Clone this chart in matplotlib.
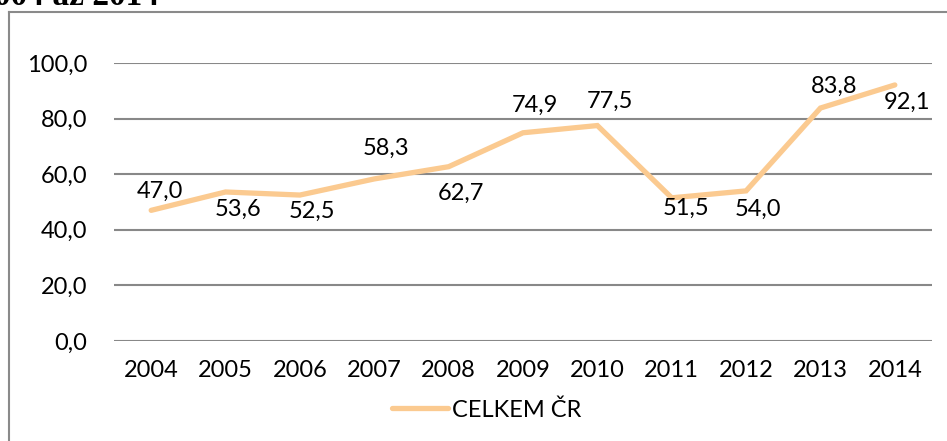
import matplotlib
matplotlib.use('Agg')
import matplotlib.pyplot as plt
from matplotlib.lines import Line2D

# data
roky = ['2004', '2005', '2006', '2007', '2008', '2009', '2010', '2011', '2012', '2013', '2014']
celkem_cr = [47.0, 53.6, 52.5, 58.3, 62.7, 74.9, 77.5, 51.5, 54.0, 83.8, 92.1]
y_ticks = [0, 20, 40, 60, 80, 100]

# posun popisku (pixely)
label_offsets = [(9, 19), (13, -17), (12, -16), (12, 31), (12, -27), (12, 27),
                 (13, 24), (14, -11), (12, -18), (14, 22), (12, -17)]

plt.rcParams['font.family'] = ['Lato', 'DejaVu Sans']
fs = 17
line_color = '#FBCA90'
grid_color = '#888888'

fig = plt.figure(figsize=(9.47, 4.41), dpi=100)
ax = fig.add_axes([114 / 947, 1 - 341 / 441, (932 - 114) / 947, (341 - 63) / 441])

x = list(range(len(roky)))
ax.plot(x, celkem_cr, color=line_color, linewidth=3.8, solid_joinstyle='miter',
        solid_capstyle='round', label='CELKEM ČR', zorder=3)

for i, v in enumerate(celkem_cr):
    dx, dy = label_offsets[i]
    ax.annotate(f'{v:.1f}'.replace('.', ','), (i, v), xytext=(dx, dy),
                textcoords='offset pixels', ha='center', va='center',
                fontsize=fs, color='black', zorder=4)

ax.set_xlim(-0.5, len(roky) - 0.5)
ax.set_ylim(0, 100)
ax.set_yticks(y_ticks)
ax.set_yticklabels([f'{t:.1f}'.replace('.', ',') for t in y_ticks])
ax.set_xticks(x)
ax.set_xticklabels(roky)
ax.tick_params(axis='both', length=0, labelsize=fs)
ax.tick_params(axis='y', pad=19)
ax.tick_params(axis='x', pad=14)
for s in ax.spines.values():
    s.set_visible(False)
ax.grid(axis='y', color=grid_color, linewidth=1.5)
ax.set_axisbelow(True)
ax.patch.set_alpha(0)

fig.legend(loc='center', bbox_to_anchor=(487 / 947, 1 - 410 / 441), frameon=False,
           fontsize=fs, handlelength=2.35, handletextpad=0.2, borderpad=0)

# ramecek grafu
fig.add_artist(Line2D([8.5 / 947, 8.5 / 947], [0, 1 - 12 / 441], transform=fig.transFigure,
                      color='#8A8A8A', linewidth=1.5))
fig.add_artist(Line2D([8.5 / 947, 1], [1 - 12 / 441, 1 - 12 / 441], transform=fig.transFigure,
                      color='#8A8A8A', linewidth=1.5))

# useknuty nadpis (v originale oriznuty hornim okrajem)
fig.text(159 / 947, 1 - 5 / 441, '004 až 2014', ha='right', va='baseline',
         fontsize=24, fontweight='bold', family='Liberation Serif')

fig.savefig('out.png', dpi=100)
plt.close()
